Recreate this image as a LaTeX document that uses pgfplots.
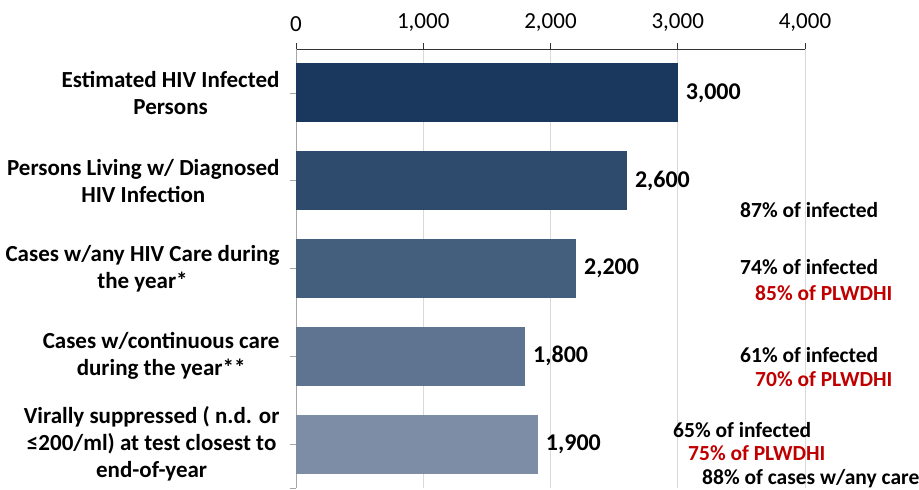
\documentclass[border=0pt]{standalone}
\usepackage{pgfplots}
\pgfplotsset{compat=1.18}
\usepackage{fontspec}
\setmainfont{Carlito}
\definecolor{b1}{HTML}{1A375E}
\definecolor{b2}{HTML}{2E4A6D}
\definecolor{b3}{HTML}{445F7E}
\definecolor{b4}{HTML}{5E7490}
\definecolor{b5}{HTML}{7C8DA5}
\definecolor{redt}{HTML}{C00000}
\definecolor{gridc}{HTML}{D9D9D9}
\begin{document}
\begin{tikzpicture}
\useasboundingbox (0,0) rectangle (919pt,490pt);
\begin{axis}[
  at={(296pt,2pt)}, anchor=south west,
  scale only axis, width=509pt, height=439pt,
  xmin=0, xmax=4000, ymin=-0.5, ymax=4.5, y dir=reverse,
  axis x line*=top, axis y line*=left,
  xtick={0,1000,2000,3000,4000},
  ytick={0,1,2,3,4},
  extra y ticks={4.5}, extra y tick labels={},
  xmajorgrids, major grid style={gridc, line width=0.8pt},
  x axis line style={black!80, line width=0.8pt},
  y axis line style={gray!70, line width=0.8pt},
  tick align=outside,
  xtick style={black!80, line width=0.8pt},
  ytick style={gray!70, line width=0.8pt},
  major tick length=6pt,
  /pgf/number format/assume math mode=true,
  /pgf/number format/1000 sep={,},
  xticklabel style={font=\fontsize{23}{27}\selectfont, text=black, yshift=8pt},
  yticklabel style={font=\bfseries\fontsize{23}{27}\selectfont, align=center, text=black, xshift=-7pt},
  yticklabels={{Estimated HIV Infected\\Persons},
               {Persons Living w/ Diagnosed\\HIV Infection},
               {Cases w/any HIV Care during\\the year*},
               {Cases w/continuous care\\during the year**},
               {Virally suppressed ( n.d. or\\≤200/ml) at test closest to\\end-of-year}},
  xbar, bar width=59pt, bar shift=0pt,
  nodes near coords, point meta=x,
  nodes near coords style={anchor=west, inner sep=0pt, xshift=8pt, text=black,
    font=\bfseries\fontsize{24}{28}\selectfont, /pgf/number format/1000 sep={,}},
]
\addplot[fill=b1, draw=none] coordinates {(3000,0)};
\addplot[fill=b2, draw=none] coordinates {(2600,1)};
\addplot[fill=b3, draw=none] coordinates {(2200,2)};
\addplot[fill=b4, draw=none] coordinates {(1800,3)};
\addplot[fill=b5, draw=none] coordinates {(1900,4)};
\end{axis}
\begin{scope}[every node/.style={anchor=west, inner sep=0pt, font=\bfseries\fontsize{21.5}{25}\selectfont}]
\node at (740pt,280pt) {87\% of infected};
\node at (740pt,223pt) {74\% of infected};
\node[text=redt] at (755pt,197pt) {85\% of PLWDHI};
\node at (740pt,135pt) {61\% of infected};
\node[text=redt] at (755pt,111pt) {70\% of PLWDHI};
\node at (673pt,60pt) {65\% of infected};
\node[text=redt] at (688pt,37pt) {75\% of PLWDHI};
\node at (702pt,11pt) {88\% of cases w/any care};
\end{scope}
\end{tikzpicture}
\end{document}
